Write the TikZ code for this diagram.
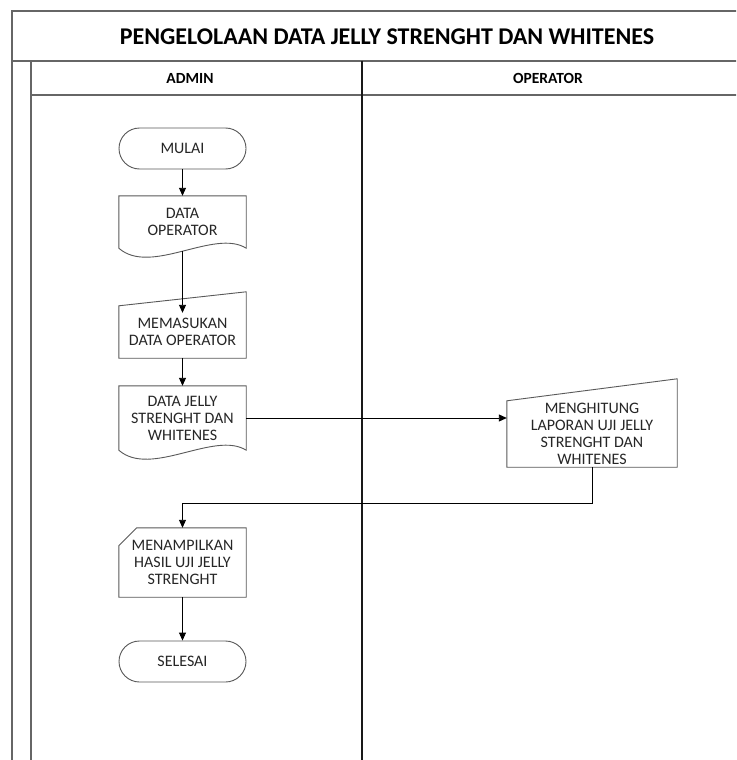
\documentclass[tikz,border=0pt]{standalone}
\usepackage{fontspec}
\setmainfont{Carlito}
\usetikzlibrary{arrows.meta,shapes.misc,calc}
\begin{document}
\begin{tikzpicture}[x=1pt,y=-1pt,
  frame/.style={draw=black!60, line width=1.3pt},
  lanediv/.style={draw=black!90, line width=1.1pt},
  shp/.style={draw=black!65, line width=0.9pt},
  txt/.style={font=\fontsize{16}{17}\selectfont, text=black!85, align=center, inner sep=0pt},
  conn/.style={draw=black, line width=0.9pt},
  arr/.style={conn, -{Triangle[length=8pt,width=7pt]}},
  term/.style={rounded rectangle, shp, txt, minimum width=127, minimum height=41},
  boxarea/.style={txt, minimum width=127},
  hdr/.style={font=\bfseries\fontsize{15.5}{18}\selectfont, text=black},
  ttl/.style={font=\bfseries\fontsize{24}{28}\selectfont, text=black}
]
\useasboundingbox (0,0) rectangle (736,760);
\fill[white] (0,0) rectangle (736,760);
\begin{scope}
\clip (0,0) rectangle (736,760);
\draw[frame] (12,770) -- (12,11) -- (770,11);
\draw[frame] (12,61) -- (770,61);
\draw[frame] (31,61) -- (31,770);
\draw[frame] (31,95) -- (770,95);
\draw[lanediv] (362,61) -- (362,770);
\end{scope}

\node[ttl] (title) at (387,37) {PENGELOLAAN DATA JELLY STRENGHT DAN WHITENES};
\node[hdr] (admin) at (190,78) {ADMIN};
\node[hdr] (oper) at (548,78) {OPERATOR};

% nodes
\node[term] (mu) at (182.5,148.5) {MULAI};
\node[boxarea, minimum height=52] (d1) at (182.5,222) {DATA\\OPERATOR};
\node[boxarea, minimum height=52] (mi) at (182.5,332) {MEMASUKAN\\DATA OPERATOR};
\node[boxarea, minimum height=64] (d2) at (182.5,418) {DATA JELLY\\STRENGHT DAN\\WHITENES};
\node[txt, minimum width=170, minimum height=66] (m) at (592,434) {MENGHITUNG\\LAPORAN UJI JELLY\\STRENGHT DAN\\WHITENES};
\node[boxarea, minimum height=69] (ca) at (182.5,562.5) {MENAMPILKAN\\HASIL UJI JELLY\\STRENGHT};
\node[term] (se) at (182.5,661.5) {SELESAI};

% shapes
\draw[shp] (d1.north west) -- (d1.north east) -- (d1.south east)
  .. controls ($(d1.south west)!0.75!(d1.south east)+(0,-20)$) and ($(d1.south west)!0.25!(d1.south east)+(0,28)$) .. (d1.south west) -- cycle;
\draw[shp] (d2.north west) -- (d2.north east) -- (d2.south east)
  .. controls ($(d2.south west)!0.75!(d2.south east)+(0,-20)$) and ($(d2.south west)!0.25!(d2.south east)+(0,28)$) .. (d2.south west) -- cycle;
\draw[shp] (mi.north west) -- ($(mi.north east)+(0,-14)$) -- (mi.south east) -- (mi.south west) -- cycle;
\draw[shp] (m.north west) -- ($(m.north east)+(0,-22)$) -- (m.south east) -- (m.south west) -- cycle;
\draw[shp] ($(ca.north west)+(18,0)$) -- (ca.north east) -- (ca.south east) -- (ca.south west) -- ($(ca.north west)+(0,18)$) -- cycle;

% connectors
\coordinate (bend) at (592,503);
\draw[arr] (mu.south) -- (d1.north);
\draw[arr, shorten <=3pt, shorten >=-7pt] (d1.south) -- (mi.north);
\draw[arr] (mi.south) -- (d2.north);
\draw[arr] (d2.east) -- (d2.east -| m.west);
\draw[arr] (m.south) -- (bend) -| (ca.north);
\draw[arr] (ca.south) -- (se.north);
\end{tikzpicture}
\end{document}
